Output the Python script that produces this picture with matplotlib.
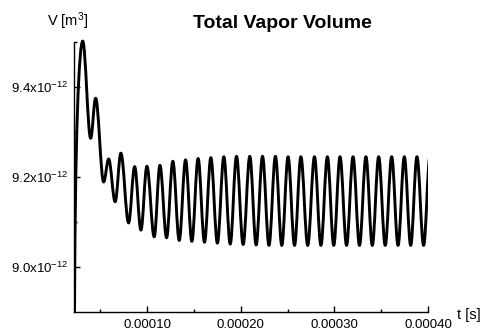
import numpy as np
import matplotlib
matplotlib.use("Agg")
import matplotlib.pyplot as plt
from matplotlib.path import Path
from matplotlib.patches import PathPatch, Rectangle
from matplotlib.ticker import FixedLocator, FuncFormatter

plt.rcParams["font.family"] = ["Liberation Sans", "DejaVu Sans"]
plt.rcParams["mathtext.fontset"] = "custom"
plt.rcParams["mathtext.rm"] = "Liberation Sans"
plt.rcParams["mathtext.default"] = "regular"

# Total vapour volume history: local extrema of the oscillation
# times in 1e-5 s, volumes in 1e-12 m^3
onset_t, onset_v = 2.23, 8.80
peak_t = [3.11, 4.49, 5.88, 7.19, 8.66, 9.97, 11.36, 12.74, 14.10, 15.44,
          16.80, 18.19, 19.54, 20.96, 22.32, 23.70, 25.05, 26.42, 27.87, 29.25,
          30.60, 31.99, 33.37, 34.73, 36.12, 37.47, 38.82, 40.21]
peak_v = [9.502, 9.375, 9.240, 9.253, 9.223, 9.224, 9.226, 9.235, 9.238, 9.241,
          9.243, 9.245, 9.246, 9.246, 9.246, 9.246, 9.245, 9.245, 9.245, 9.245,
          9.245, 9.245, 9.245, 9.245, 9.245, 9.245, 9.245, 9.245]
trough_t = [3.96, 5.35, 6.58, 8.01, 9.33, 10.75, 12.07, 13.42, 14.77, 16.12,
            17.50, 18.87, 20.25, 21.64, 23.01, 24.38, 25.74, 27.15, 28.56, 29.93,
            31.30, 32.68, 34.05, 35.43, 36.80, 38.15, 39.53]
trough_v = [9.286, 9.189, 9.145, 9.098, 9.082, 9.067, 9.065, 9.059, 9.057, 9.055,
            9.053, 9.051, 9.050, 9.049, 9.048, 9.048, 9.048, 9.048, 9.048, 9.048,
            9.048, 9.048, 9.048, 9.048, 9.048, 9.048, 9.048]

x_major = [1e-4, 2e-4, 3e-4, 4e-4]
x_minor = [5e-5, 1.5e-4, 2.5e-4, 3.5e-4]
y_major = [9.0e-12, 9.2e-12, 9.4e-12]
y_minor = [9.1e-12, 9.3e-12, 9.5e-12]
x_range = (2.18e-5, 4.0e-4)
y_range = (8.9e-12, 9.5e-12)

T_SCALE, V_SCALE = 1e-5, 1e-12

# interleave peaks and troughs in time order
ext_t, ext_v = [], []
for i in range(len(peak_t)):
    ext_t.append(peak_t[i]); ext_v.append(peak_v[i])
    if i < len(trough_t):
        ext_t.append(trough_t[i]); ext_v.append(trough_v[i])
ext_t = np.array(ext_t) * T_SCALE
ext_v = np.array(ext_v) * V_SCALE
t0, v0 = onset_t * T_SCALE, onset_v * V_SCALE

# smooth cubic Bezier path with horizontal tangents at each extremum
a = 0.363
verts = [(t0, v0)]
codes = [Path.MOVETO]
dt = ext_t[0] - t0
verts += [(t0, v0 + 0.75 * (ext_v[0] - v0)), (ext_t[0] - a * dt, ext_v[0]), (ext_t[0], ext_v[0])]
codes += [Path.CURVE4] * 3
for i in range(len(ext_t) - 1):
    ta, va, tb, vb = ext_t[i], ext_v[i], ext_t[i + 1], ext_v[i + 1]
    d = tb - ta
    verts += [(ta + a * d, va), (tb - a * d, vb), (tb, vb)]
    codes += [Path.CURVE4] * 3

fig = plt.figure(figsize=(4.88, 3.30), dpi=100)
ax = fig.add_axes([74 / 488, 1 - 312 / 330, (428 - 74) / 488, (312 - 42) / 330])
curve = PathPatch(Path(verts, codes), fill=False, lw=2.1, edgecolor="black",
                  joinstyle="round", capstyle="butt")
ax.add_patch(curve)
# clip left/right/bottom at the axes, leave headroom above for the first peak
clip = Rectangle((0, 0), 1, 1.08, transform=ax.transAxes, visible=False)
ax.add_patch(clip)
curve.set_clip_path(clip)

ax.set_xlim(*x_range)
ax.set_ylim(*y_range)
for s in ("top", "right"):
    ax.spines[s].set_visible(False)
for s in ("left", "bottom"):
    ax.spines[s].set_linewidth(1.0)

ax.xaxis.set_major_locator(FixedLocator(x_major))
ax.xaxis.set_minor_locator(FixedLocator(x_minor))
ax.yaxis.set_major_locator(FixedLocator(y_major))
ax.yaxis.set_minor_locator(FixedLocator(y_minor))
ax.xaxis.set_major_formatter(FuncFormatter(lambda x, p: f"{x:.5f}"))
ax.yaxis.set_major_formatter(FuncFormatter(lambda y, p: f"{y / V_SCALE:.1f}x10$^{{-12}}$"))
ax.tick_params(which="both", direction="in", width=1.0)
ax.tick_params(which="major", length=4)
ax.tick_params(which="minor", length=2.5)
ax.tick_params(axis="x", which="major", labelsize=9.5, pad=5)
ax.tick_params(axis="y", which="major", labelsize=9.5, pad=4)

fig.text(282.5 / 488, 1 - 27.7 / 330, "Total Vapor Volume", ha="center", va="baseline",
         fontsize=14, fontweight="bold")
fig.text(68 / 488, 1 - 26 / 330, "V [m$^3$]", ha="center", va="baseline", fontsize=10.5)
fig.text(457 / 488, 1 - 319 / 330, "t [s]", ha="left", va="baseline", fontsize=10.5)

fig.savefig("out.png", dpi=100)
